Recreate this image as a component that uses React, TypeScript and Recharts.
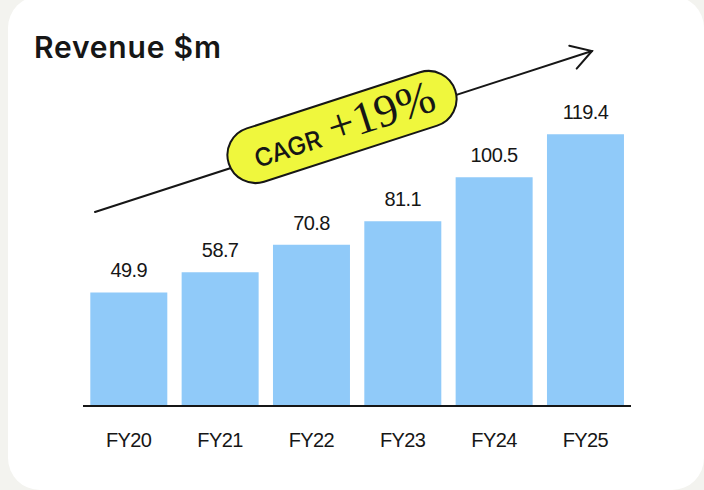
import React from 'react';
import { BarChart, Bar, XAxis, YAxis, LabelList } from 'recharts';

const years = ['FY20', 'FY21', 'FY22', 'FY23', 'FY24', 'FY25'];
const revenue = [49.9, 58.7, 70.8, 81.1, 100.5, 119.4];
const cagrLabel = 'CAGR';
const cagrValue = '+19%';

const data = years.map((y, i) => ({ year: y, value: revenue[i] }));

const INK = '#161616';

/**
 * Revenue bar chart with a CAGR arrow annotation.
 */
export default function App() {
    // arrow geometry (annotation only)
    const ax = 95, ay = 212, bx = 592, by = 51;
    const ang = (Math.atan2(by - ay, bx - ax) * 180) / Math.PI;
    const len = Math.hypot(bx - ax, by - ay);

    return (
        <div style={{ position: 'absolute', left: 0, top: 0, width: 704, height: 490, background: '#f3f3ef', overflow: 'hidden' }}>
            <div style={{ position: 'absolute', left: 8, top: -4, width: 696, height: 494, borderRadius: 32, background: '#fff' }} />
            <div
                style={{
                    position: 'absolute', left: 34, top: 27, fontFamily: 'Inter, sans-serif', fontWeight: 600,
                    fontSize: 30, color: INK, letterSpacing: 0.8, lineHeight: '40px',
                }}
            >
                Revenue $m
            </div>
            <div style={{ position: 'absolute', left: 0, top: 0 }}>
                <BarChart width={704} height={490} data={data} margin={{ top: 110, right: 73, left: 83, bottom: 44 }} barCategoryGap="8%">
                    <XAxis
                        dataKey="year"
                        height={40}
                        tickLine={false}
                        axisLine={{ stroke: INK, strokeWidth: 2 }}
                        tickMargin={21}
                        tick={{ fill: INK, fontSize: 20, fontFamily: '"Liberation Sans", Arial, sans-serif', letterSpacing: -0.6 }}
                    />
                    <YAxis hide domain={[0, 130]} />
                    <Bar dataKey="value" fill="#90caf9" isAnimationActive={false}>
                        <LabelList
                            dataKey="value"
                            position="top"
                            offset={15}
                            fill={INK}
                            fontSize={20}
                            fontFamily='"Liberation Sans", Arial, sans-serif'
                            style={{ letterSpacing: -0.6 }}
                            formatter={(v: any) => Number(v).toFixed(1)}
                        />
                    </Bar>
                </BarChart>
            </div>
            <svg width={704} height={490} style={{ position: 'absolute', left: 0, top: 0, pointerEvents: 'none' }}>
                <g transform={`translate(${ax},${ay}) rotate(${ang})`} stroke={INK} strokeWidth={2} fill="none" strokeLinecap="round">
                    <line x1={0} y1={0} x2={len} y2={0} />
                    <polyline points={`${len - 20},-12 ${len},0 ${len - 20},12`} strokeLinejoin="miter" />
                </g>
                <g transform={`translate(342,127) rotate(${ang})`}>
                    <rect x={-119} y={-28} width={238} height={56} rx={28} fill="#eff73d" stroke={INK} strokeWidth={2} />
                    <text x={2} y={13} textAnchor="middle" fill={INK}>
                        <tspan fontFamily="Inter, sans-serif" fontWeight={500} fontSize={25}>{cagrLabel}</tspan>
                        <tspan dx={10} fontFamily='"Liberation Serif", serif' fontSize={46}>{cagrValue}</tspan>
                    </text>
                </g>
            </svg>
        </div>
    );
}
